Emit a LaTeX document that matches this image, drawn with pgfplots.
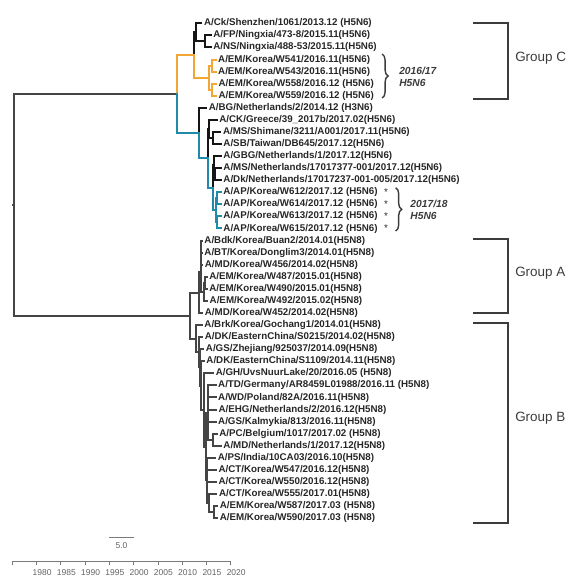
\documentclass[border=0pt]{standalone}
\usepackage{pgfplots}
\pgfplotsset{compat=1.18}
\usepackage{fontspec}
\setmainfont{Liberation Sans}
\usetikzlibrary{decorations.pathreplacing}
\definecolor{treegray}{HTML}{454545}
\definecolor{treeblack}{HTML}{151515}
\definecolor{treeorange}{HTML}{F2A735}
\definecolor{treeblue}{HTML}{1F8AAA}
\definecolor{labtext}{HTML}{262626}
\definecolor{grptext}{HTML}{3C3C3C}
\definecolor{axgray}{HTML}{7A7A7A}
\newcommand{\edge}[5]{\addplot[#1] coordinates {(#2,#3) (#2,#4) (#5,#4)};}
\newcommand{\tip}[3]{\node[tiplab] at (axis cs:#1,#2) {#3};}
\begin{document}
\begin{tikzpicture}[
  tg/.style={treegray, line width=2bp, line cap=rect},
  tk/.style={treeblack, line width=2bp, line cap=rect},
  to/.style={treeorange, line width=2bp, line cap=rect},
  tb/.style={treeblue, line width=2bp, line cap=rect},
  tiplab/.style={anchor=west, inner sep=0pt, xshift=2.5bp, font=\fontsize{9.8}{11}\selectfont\bfseries, text=labtext}]
\begin{axis}[at={(0,0)}, anchor=south west, scale only axis, width=575bp, height=588bp,
  xmin=1972.465, xmax=2090.95, ymin=-1.930, ymax=46.785, y dir=reverse, hide axis, clip=false]
\path (rel axis cs:0,0) rectangle (rel axis cs:1,1);
% root
\addplot[tg] coordinates {(1975.1,15.04) (1975.41,15.04)};
\edge{tg}{1975.41}{15.04}{5.859}{2008.88}
\edge{tg}{1975.41}{15.04}{24.22}{2011.62}
% H5N8 groups A and B
\edge{tg}{2011.62}{24.22}{22.3125}{2013.57}
\edge{tg}{2011.62}{24.22}{26.127}{2012.80}
\edge{tg}{2013.57}{22.3125}{20.625}{2013.78}
\edge{tg}{2013.57}{22.3125}{24}{2014.125}
\edge{tg}{2013.78}{20.625}{19}{2013.88}
\edge{tg}{2013.78}{20.625}{22.25}{2014.40}
\edge{tg}{2013.88}{19}{18}{2014.04}
\edge{tg}{2013.88}{19}{19}{2014.04}
\edge{tg}{2013.88}{19}{20}{2014.125}
\edge{tg}{2014.40}{22.25}{21.5}{2014.71}
\edge{tg}{2014.40}{22.25}{23}{2015.125}
\edge{tg}{2014.71}{21.5}{21}{2015.04}
\edge{tg}{2014.71}{21.5}{22}{2015.04}
\edge{tg}{2012.80}{26.127}{25}{2014.04}
\edge{tg}{2012.80}{26.127}{27.254}{2013.50}
\edge{tg}{2013.50}{27.254}{26}{2014.125}
\edge{tg}{2013.50}{27.254}{28.508}{2013.75}
\edge{tg}{2013.75}{28.508}{27}{2014.35}
\edge{tg}{2013.75}{28.508}{30.016}{2013.95}
\edge{tg}{2013.95}{30.016}{28}{2014.45}
\edge{tg}{2013.95}{30.016}{32.03}{2014.50}
\edge{tg}{2014.50}{32.03}{29}{2016.375}
\edge{tg}{2014.50}{32.03}{35.0625}{2014.91}
\edge{tg}{2014.91}{35.0625}{32.25}{2015.33}
\edge{tg}{2014.91}{35.0625}{37.875}{2015.22}
\edge{tg}{2015.33}{32.25}{30}{2016.875}
\edge{tg}{2015.33}{32.25}{31}{2016.875}
\edge{tg}{2015.33}{32.25}{32}{2016.96}
\edge{tg}{2015.33}{32.25}{33}{2016.875}
\edge{tg}{2015.33}{32.25}{34.5}{2016.26}
\edge{tg}{2016.26}{34.5}{34}{2017.125}
\edge{tg}{2016.26}{34.5}{35}{2017.96}
\edge{tg}{2015.22}{37.875}{36}{2016.79}
\edge{tg}{2015.22}{37.875}{37}{2016.96}
\edge{tg}{2015.22}{37.875}{38}{2016.96}
\edge{tg}{2015.22}{37.875}{39.75}{2015.63}
\edge{tg}{2015.63}{39.75}{39}{2017.04}
\edge{tg}{2015.63}{39.75}{40.5}{2016.46}
\edge{tg}{2016.46}{40.5}{40}{2017.21}
\edge{tg}{2016.46}{40.5}{41}{2017.21}
% H5N6 black parts
\edge{tk}{2012.44}{2.625}{0.75}{2012.85}
\edge{tk}{2012.85}{0.75}{0}{2013.96}
\edge{tk}{2012.85}{0.75}{1.5}{2014.71}
\edge{tk}{2014.71}{1.5}{1}{2015.875}
\edge{tk}{2014.71}{1.5}{2}{2015.875}
\edge{tk}{2013.43}{9.094}{7}{2014.96}
\edge{tk}{2015.39}{11.1875}{8.75}{2015.63}
\edge{tk}{2015.63}{8.75}{8}{2017.125}
\edge{tk}{2015.63}{8.75}{9.5}{2016.36}
\edge{tk}{2016.36}{9.5}{9}{2017.875}
\edge{tk}{2016.36}{9.5}{10}{2017.96}
\edge{tk}{2016.36}{13.625}{11.75}{2016.66}
\edge{tk}{2016.66}{11.75}{11}{2017.96}
\edge{tk}{2016.66}{11.75}{12.5}{2016.87}
\edge{tk}{2016.87}{12.5}{12}{2017.96}
\edge{tk}{2016.87}{12.5}{13}{2017.96}
% orange 2016/17
\edge{to}{2008.88}{5.859}{2.625}{2012.44}
\edge{to}{2012.44}{2.625}{4.5}{2015.53}
\edge{to}{2015.53}{4.5}{3.5}{2016.15}
\edge{to}{2015.53}{4.5}{5.5}{2016.25}
\edge{to}{2016.15}{3.5}{3}{2016.875}
\edge{to}{2016.15}{3.5}{4}{2016.875}
\edge{to}{2016.25}{5.5}{5}{2016.96}
\edge{to}{2016.25}{5.5}{6}{2016.96}
% blue 2017/18
\edge{tb}{2008.88}{5.859}{9.094}{2013.43}
\edge{tb}{2013.43}{9.094}{11.1875}{2015.39}
\edge{tb}{2015.39}{11.1875}{13.625}{2016.36}
\edge{tb}{2016.36}{13.625}{15.5}{2016.97}
\edge{tb}{2016.97}{15.5}{14.5}{2017.18}
\edge{tb}{2016.97}{15.5}{16.5}{2017.24}
\edge{tb}{2017.18}{14.5}{14}{2017.96}
\edge{tb}{2017.18}{14.5}{15}{2017.96}
\edge{tb}{2017.24}{16.5}{16}{2017.96}
\edge{tb}{2017.24}{16.5}{17}{2017.96}
% tip labels
\tip{2013.96}{0}{A/Ck/Shenzhen/1061/2013.12 (H5N6)}
\tip{2015.875}{1}{A/FP/Ningxia/473-8/2015.11(H5N6)}
\tip{2015.875}{2}{A/NS/Ningxia/488-53/2015.11(H5N6)}
\tip{2016.875}{3}{A/EM/Korea/W541/2016.11(H5N6)}
\tip{2016.875}{4}{A/EM/Korea/W543/2016.11(H5N6)}
\tip{2016.96}{5}{A/EM/Korea/W558/2016.12 (H5N6)}
\tip{2016.96}{6}{A/EM/Korea/W559/2016.12 (H5N6)}
\tip{2014.96}{7}{A/BG/Netherlands/2/2014.12 (H3N6)}
\tip{2017.125}{8}{A/CK/Greece/39\_2017b/2017.02(H5N6)}
\tip{2017.875}{9}{A/MS/Shimane/3211/A001/2017.11(H5N6)}
\tip{2017.96}{10}{A/SB/Taiwan/DB645/2017.12(H5N6)}
\tip{2017.96}{11}{A/GBG/Netherlands/1/2017.12(H5N6)}
\tip{2017.96}{12}{A/MS/Netherlands/17017377-001/2017.12(H5N6)}
\tip{2017.96}{13}{A/Dk/Netherlands/17017237-001-005/2017.12(H5N6)}
\tip{2017.96}{14}{A/AP/Korea/W612/2017.12 (H5N6)}
\tip{2017.96}{15}{A/AP/Korea/W614/2017.12 (H5N6)}
\tip{2017.96}{16}{A/AP/Korea/W613/2017.12 (H5N6)}
\tip{2017.96}{17}{A/AP/Korea/W615/2017.12 (H5N6)}
\tip{2014.04}{18}{A/Bdk/Korea/Buan2/2014.01(H5N8)}
\tip{2014.04}{19}{A/BT/Korea/Donglim3/2014.01(H5N8)}
\tip{2014.125}{20}{A/MD/Korea/W456/2014.02(H5N8)}
\tip{2015.04}{21}{A/EM/Korea/W487/2015.01(H5N8)}
\tip{2015.04}{22}{A/EM/Korea/W490/2015.01(H5N8)}
\tip{2015.125}{23}{A/EM/Korea/W492/2015.02(H5N8)}
\tip{2014.125}{24}{A/MD/Korea/W452/2014.02(H5N8)}
\tip{2014.04}{25}{A/Brk/Korea/Gochang1/2014.01(H5N8)}
\tip{2014.125}{26}{A/DK/EasternChina/S0215/2014.02(H5N8)}
\tip{2014.35}{27}{A/GS/Zhejiang/925037/2014.09(H5N8)}
\tip{2014.45}{28}{A/DK/EasternChina/S1109/2014.11(H5N8)}
\tip{2016.375}{29}{A/GH/UvsNuurLake/20/2016.05 (H5N8)}
\tip{2016.875}{30}{A/TD/Germany/AR8459L01988/2016.11 (H5N8)}
\tip{2016.875}{31}{A/WD/Poland/82A/2016.11(H5N8)}
\tip{2016.96}{32}{A/EHG/Netherlands/2/2016.12(H5N8)}
\tip{2016.875}{33}{A/GS/Kalmykia/813/2016.11(H5N8)}
\tip{2017.125}{34}{A/PC/Belgium/1017/2017.02 (H5N8)}
\tip{2017.96}{35}{A/MD/Netherlands/1/2017.12(H5N8)}
\tip{2016.79}{36}{A/PS/India/10CA03/2016.10(H5N8)}
\tip{2016.96}{37}{A/CT/Korea/W547/2016.12(H5N8)}
\tip{2016.96}{38}{A/CT/Korea/W550/2016.12(H5N8)}
\tip{2017.04}{39}{A/CT/Korea/W555/2017.01(H5N8)}
\tip{2017.21}{40}{A/EM/Korea/W587/2017.03 (H5N8)}
\tip{2017.21}{41}{A/EM/Korea/W590/2017.03 (H5N8)}
% stars
\node[font=\fontsize{9.8}{11}\selectfont, text=labtext, inner sep=0pt] at (axis cs:2052.0,14) {*};
\node[font=\fontsize{9.8}{11}\selectfont, text=labtext, inner sep=0pt] at (axis cs:2052.0,15) {*};
\node[font=\fontsize{9.8}{11}\selectfont, text=labtext, inner sep=0pt] at (axis cs:2052.0,16) {*};
\node[font=\fontsize{9.8}{11}\selectfont, text=labtext, inner sep=0pt] at (axis cs:2052.0,17) {*};
% braces
\draw[decorate, decoration={brace, amplitude=6bp}, line width=1.4bp, grptext] (axis cs:2051.2,2.55) -- (axis cs:2051.2,6.19);
\draw[decorate, decoration={brace, amplitude=6bp}, line width=1.4bp, grptext] (axis cs:2054.0,13.62) -- (axis cs:2054.0,17.21);
\node[anchor=west, inner sep=0pt, font=\fontsize{10.3}{12}\selectfont\bfseries\itshape, text=grptext] at (axis cs:2054.7,3.95) {2016/17};
\node[anchor=west, inner sep=0pt, font=\fontsize{10.3}{12}\selectfont\bfseries\itshape, text=grptext] at (axis cs:2054.7,4.95) {H5N6};
\node[anchor=west, inner sep=0pt, font=\fontsize{10.3}{12}\selectfont\bfseries\itshape, text=grptext] at (axis cs:2057.0,14.97) {2017/18};
\node[anchor=west, inner sep=0pt, font=\fontsize{10.3}{12}\selectfont\bfseries\itshape, text=grptext] at (axis cs:2057.0,15.97) {H5N6};
% group brackets
\addplot[grptext, line width=2bp, line join=miter] coordinates {(2069.99,-0.05) (2077.2,-0.05) (2077.2,6.25) (2069.99,6.25)};
\addplot[grptext, line width=2bp, line join=miter] coordinates {(2069.99,17.90) (2077.2,17.90) (2077.2,23.98) (2069.99,23.98)};
\addplot[grptext, line width=2bp, line join=miter] coordinates {(2069.99,24.80) (2077.2,24.80) (2077.2,41.38) (2069.99,41.38)};
\node[anchor=west, inner sep=0pt, font=\fontsize{13.5}{15}\selectfont, text=grptext] at (axis cs:2078.6,2.90) {Group C};
\node[anchor=west, inner sep=0pt, font=\fontsize{13.5}{15}\selectfont, text=grptext] at (axis cs:2078.6,20.71) {Group A};
\node[anchor=west, inner sep=0pt, font=\fontsize{13.5}{15}\selectfont, text=grptext] at (axis cs:2078.6,32.73) {Group B};
% scale bar
\addplot[axgray, line width=0.8bp] coordinates {(1995,42.56) (2000,42.56)};
\node[inner sep=0pt, font=\fontsize{8.5}{10}\selectfont, text=axgray!80!black] at (axis cs:1997.5,43.3) {5.0};
\end{axis}
\begin{axis}[at={(12.3bp,27bp)}, anchor=south west, scale only axis, width=218.4bp, height=10bp,
  xmin=1975, xmax=2020, ymin=0, ymax=1, axis x line*=bottom, hide y axis,
  xtick={1975,1980,...,2020}, xticklabels={,1980,1985,1990,1995,2000,2005,2010,2015,2020},
  tick align=outside, major tick length=3.5bp,
  axis line style={axgray, line width=0.7bp}, tick style={axgray, line width=0.7bp},
  xticklabel style={font=\fontsize{8.5}{10}\selectfont, text=axgray!80!black, xshift=5.5bp, yshift=-1.5bp}]
\end{axis}
\end{tikzpicture}
\end{document}
